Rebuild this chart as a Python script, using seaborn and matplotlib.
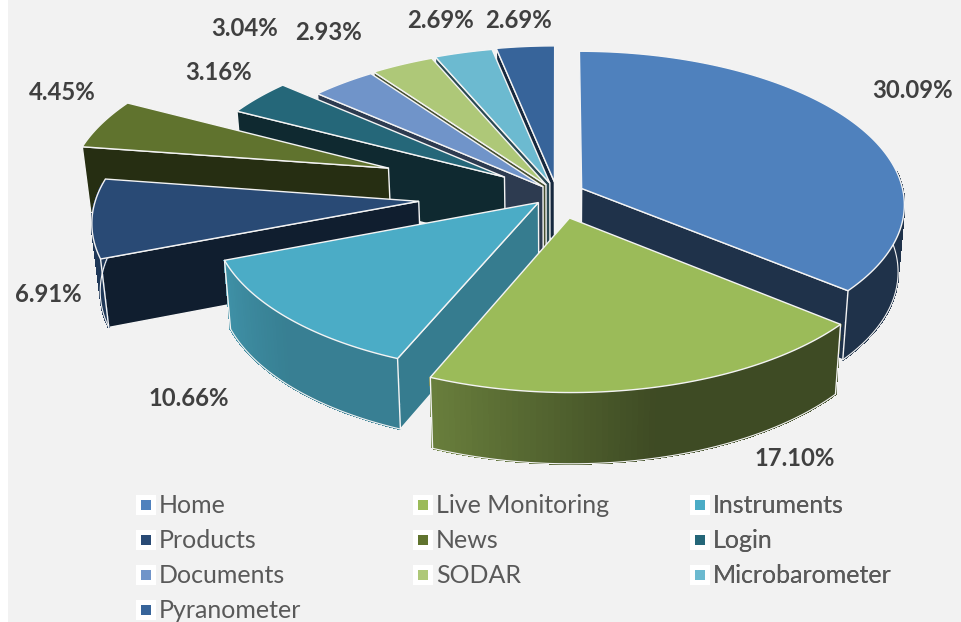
# 3D exploded pie of page visits, drawn by hand because matplotlib has no 3D pie
import numpy as np
import matplotlib
matplotlib.use('Agg')
import matplotlib.pyplot as plt
from matplotlib.lines import Line2D
import seaborn as sns

pages = ['Home', 'Live Monitoring', 'Instruments', 'Products', 'News', 'Login',
         'Documents', 'SODAR', 'Microbarometer', 'Pyranometer']
shares = [30.09, 17.10, 10.66, 6.91, 4.45, 3.16, 3.04, 2.93, 2.69, 2.69]
slice_colors = ['#4f81bd', '#9bbb59', '#4bacc6', '#294a75', '#60732e', '#256779',
                '#7094c9', '#aec878', '#6cbad0', '#37649a']

# how far each slice is pulled out, in radii
explode = [0.085, 0.16, 0.08, 0.43, 0.56, 0.20, 0.065, 0.07, 0.075, 0.08]
# wall shading: radial wall, outer wall at the start and the end of the slice
radial_shade = [0.39, 0.40, 0.72, 0.40, 0.40, 0.40, 0.40, 0.40, 0.40, 0.40]
outer_start = [0.39, 0.40, 0.74, 0.75, 0.40, 0.40, 0.40, 0.40, 0.40, 0.40]
outer_end = [0.39, 0.68, 0.84, 0.75, 0.40, 0.40, 0.40, 0.40, 0.40, 0.40]

label_pos = [(913, 90), (795, 458), (189, 398), (48, 294), (62, 92),
             (219, 73), (245, 29), (329, 33), (441, 21), (519, 20)]

CX, CY = 557, 194
RX, RY = 322, 152
P = 0.10   # perspective towards the back
Q = 0.018  # narrowing of the bottom face
DEPTH = 67
WALL_LIMIT = 0.12  # the perspective shows the wall a little past the widest point
EDGE = '#f4f4f4'

sns.set_theme(style='white')
plt.rcParams['font.family'] = ['Lato', 'DejaVu Sans']
palette = sns.color_palette(slice_colors)


def project(u, v, z=0.0):
    s = 1 / (1 + P * v)
    return CX + RX * u * s * (1 - Q * z), CY - RY * v * s + DEPTH * z * np.sqrt(s)


def shade(color, k):
    return tuple(c * k for c in color)


fig = plt.figure(figsize=(9.61, 6.22), dpi=100, facecolor='white')
ax = fig.add_axes([8 / 961, 0, 953 / 961, 1], facecolor='#f2f2f2')
ax.set_xlim(8, 961)
ax.set_ylim(622, 0)
ax.set_xticks([])
ax.set_yticks([])
for side in ax.spines.values():
    side.set_visible(False)

angles = np.cumsum([0] + shares) / sum(shares) * 2 * np.pi
slices = []
for i in range(len(pages)):
    a1, a2 = angles[i], angles[i + 1]
    mid = (a1 + a2) / 2
    slices.append((np.cos(mid), i, a1, a2, mid))

# back slices first, the nearer ones paint over them
z = 2
for _, i, a1, a2, mid in sorted(slices, key=lambda t: -t[0]):
    col = palette[i]
    ou, ov = explode[i] * np.sin(mid), explode[i] * np.cos(mid)

    # radial walls, only those turned to the viewer
    for a, normal in ((a1, a1 - np.pi / 2), (a2, a2 + np.pi / 2)):
        if np.cos(normal) < -0.01:
            eu, ev = ou + np.sin(a), ov + np.cos(a)
            pts = [project(ou, ov), project(eu, ev), project(eu, ev, 1), project(ou, ov, 1)]
            ax.fill(*zip(*pts), fc=shade(col, radial_shade[i]), ec=EDGE, lw=1, zorder=z)
            z += 1

    # outer wall as thin strips, this gives the gradient
    th = np.linspace(a1, a2, max(int((a2 - a1) * 60), 8) + 1)
    for j in range(len(th) - 1):
        if np.cos((th[j] + th[j + 1]) / 2) > WALL_LIMIT:
            continue
        t = j / (len(th) - 1)
        k = np.interp(t, [0, 0.5, 1], [outer_start[i], outer_start[i], outer_end[i]])
        u0, v0 = ou + np.sin(th[j]), ov + np.cos(th[j])
        u1, v1 = ou + np.sin(th[j + 1]), ov + np.cos(th[j + 1])
        pts = [project(u0, v0), project(u1, v1), project(u1, v1, 1), project(u0, v0, 1)]
        c = shade(col, k)
        ax.fill(*zip(*pts), fc=c, ec=c, lw=0.8, antialiased=False, zorder=z)
    z += 1
    front = th[np.cos(th) <= WALL_LIMIT]
    if len(front) > 1:
        bx, by = project(ou + np.sin(front), ov + np.cos(front), 1)
        ax.plot(bx, by, color=EDGE, lw=0.8, zorder=z)
        # vertical edges only where the slice really ends, not on the silhouette
        for a in (a1, a2):
            if np.cos(a) <= WALL_LIMIT:
                ex, ey = project(ou + np.sin([a, a]), ov + np.cos([a, a]), np.array([0, 1]))
                ax.plot(ex, ey, color=EDGE, lw=1, zorder=z)
    z += 1

    # top face
    tx, ty = project(ou + np.sin(th), ov + np.cos(th))
    apex = project(ou, ov)
    ax.fill(np.r_[apex[0], tx], np.r_[apex[1], ty], fc=col, ec=EDGE, lw=1,
            joinstyle='miter', zorder=z)
    z += 1

for share, (lx, ly) in zip(shares, label_pos):
    ax.text(lx, ly, f'{share:.2f}%', ha='center', va='center',
            fontsize=17.2, fontweight='bold', color='#404040', zorder=z)

# one legend per column, the columns are evenly spaced whatever the text width
for col_i, x0 in enumerate([132.5, 409.5, 686.5]):
    idx = list(range(len(pages)))[col_i::3]
    handles = [Line2D([], [], ls='none', marker='s', ms=10.8, mfc=palette[k], mec='white',
                      mew=3.6) for k in idx]
    leg = ax.legend(handles, [pages[k] for k in idx], loc='upper left',
                    bbox_to_anchor=(x0, 494), bbox_transform=ax.transData, frameon=False,
                    fontsize=18, labelcolor='#595959', labelspacing=0.48, handletextpad=0.06,
                    handlelength=1.0, borderpad=0, borderaxespad=0)
    leg.set_zorder(z)
    ax.add_artist(leg)

fig.savefig('out.png', dpi=100)
